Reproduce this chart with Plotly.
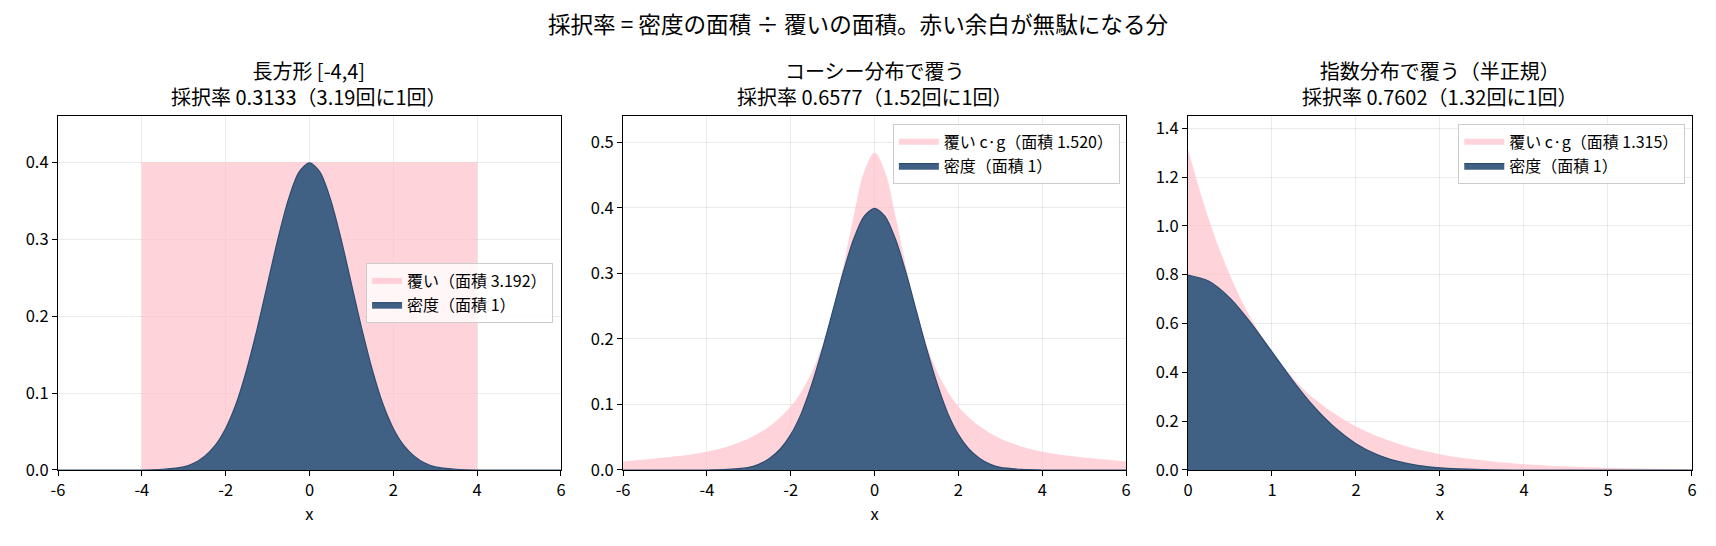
import plotly.graph_objects as go

# values
norm_x_half = [0, 0.25, 0.5, 0.75, 1.0, 1.25, 1.5, 1.75, 2.0, 2.25, 2.5, 2.75, 3.0, 3.5, 4.0, 6.0]
norm_y_half = [0.399, 0.387, 0.352, 0.301, 0.242, 0.183, 0.130, 0.086, 0.054, 0.032, 0.018, 0.009,
               0.004, 0.001, 0.000, 0.000]

rect_x = [-4, 4]
rect_y = [0.4, 0.4]

cauchy_x_half = [0, 0.25, 0.5, 0.75, 1.0, 1.25, 1.5, 1.75, 2.0, 2.5, 3.0, 3.5, 4.0, 5.0, 6.0]
cauchy_y_half = [0.484, 0.455, 0.387, 0.310, 0.242, 0.189, 0.149, 0.119, 0.097, 0.067, 0.048,
                 0.036, 0.028, 0.019, 0.013]

half_x = [0, 0.25, 0.5, 0.75, 1.0, 1.25, 1.5, 1.75, 2.0, 2.25, 2.5, 2.75, 3.0, 3.5, 4.0, 6.0]
half_y = [0.798, 0.773, 0.704, 0.602, 0.484, 0.365, 0.259, 0.173, 0.108, 0.063, 0.035, 0.018,
          0.009, 0.002, 0.000, 0.000]

exp_x = [0, 0.25, 0.5, 0.75, 1.0, 1.25, 1.5, 2.0, 2.5, 3.0, 3.5, 4.0, 5.0, 6.0]
exp_y = [1.315, 1.024, 0.798, 0.621, 0.484, 0.377, 0.293, 0.178, 0.108, 0.065, 0.040, 0.024,
         0.009, 0.003]

titles = ['長方形 [-4,4]<br>採択率 0.3133（3.19回に1回）',
          'コーシー分布で覆う<br>採択率 0.6577（1.52回に1回）',
          '指数分布で覆う（半正規）<br>採択率 0.7602（1.32回に1回）']
env_names = ['覆い（面積 3.192）', '覆い c·g（面積 1.520）', '覆い c·g（面積 1.315）']
dens_name = '密度（面積 1）'

sym_ticks = [-6, -4, -2, 0, 2, 4, 6]
pos_ticks = [0, 1, 2, 3, 4, 5, 6]

# mirror the symmetric curves
norm_x = [-v for v in norm_x_half[::-1]] + norm_x_half[1:]
norm_y = norm_y_half[::-1] + norm_y_half[1:]
cauchy_x = [-v for v in cauchy_x_half[::-1]] + cauchy_x_half[1:]
cauchy_y = cauchy_y_half[::-1] + cauchy_y_half[1:]

PINK = 'rgba(255,192,203,0.7)'
NAVY = 'rgb(64,97,132)'
EDGE = 'rgb(44,76,112)'
FONT = 'Noto Sans CJK JP'

panels = [
    (rect_x, rect_y, norm_x, norm_y, 'linear', sym_ticks),
    (cauchy_x, cauchy_y, norm_x, norm_y, 'spline', sym_ticks),
    (exp_x, exp_y, half_x, half_y, 'spline', pos_ticks),
]

fig = go.Figure()
for i, (ex, ey, dx, dy, shape, _) in enumerate(panels):
    n = '' if i == 0 else str(i + 1)
    leg = 'legend' + n
    fig.add_trace(go.Scatter(
        x=ex, y=ey, mode='none', fill='tozeroy', fillcolor=PINK,
        line_shape=shape, name=env_names[i], legend=leg,
        xaxis='x' + n, yaxis='y' + n))
    fig.add_trace(go.Scatter(
        x=dx, y=dy, mode='lines', fill='tozeroy', fillcolor=NAVY,
        line=dict(color=EDGE, width=1.2, shape='spline', smoothing=0.8), name=dens_name, legend=leg,
        xaxis='x' + n, yaxis='y' + n))

# page offset of the browser (body margin) taken off the layout
DX = 8 / 1716
DY = 8 / 546

x_domains = [[0.0338 - DX, 0.3269 - DX], [0.3631 - DX, 0.6562 - DX], [0.6923 - DX, 0.986 - DX]]
y_dom = [0.1392 + DY, 0.7875 + DY]
x_ranges = [[-6, 6], [-6, 6], [0, 6]]
y_ranges = [[0, 0.46], [0, 0.54], [0, 1.45]]
y_dticks = [0.1, 0.1, 0.2]

axis_common = dict(showline=True, linecolor='black', linewidth=1.2, mirror=True,
                   ticks='outside', ticklen=5, tickwidth=1.2, tickcolor='black',
                   showgrid=True, gridcolor='rgba(0,0,0,0.08)', gridwidth=1,
                   zeroline=False, automargin=False, tickfont=dict(size=16.5, color='black'))

layout = {}
for i in range(3):
    n = '' if i == 0 else str(i + 1)
    ticks = panels[i][5]
    layout['xaxis' + n] = dict(axis_common, domain=x_domains[i], range=x_ranges[i],
                               tickvals=ticks, ticktext=[str(t) for t in ticks], anchor='y' + n,
                               title=dict(text='x', font=dict(size=16.5, color='black'), standoff=6))
    layout['yaxis' + n] = dict(axis_common, domain=y_dom, range=y_ranges[i],
                               dtick=y_dticks[i], tickformat='.1f', anchor='x' + n)

legend_style = dict(bgcolor='rgba(255,255,255,0.8)', bordercolor='#cccccc', borderwidth=1,
                    font=dict(size=16, color='black'), tracegroupgap=0)
layout['legend'] = dict(legend_style, x=0.3223 - DX, y=0.4634 + DY, xanchor='right', yanchor='middle',
                        itemwidth=30)
layout['legend2'] = dict(legend_style, x=0.6526 - DX, y=0.773 + DY, xanchor='right', yanchor='top',
                         itemwidth=40)
layout['legend3'] = dict(legend_style, x=0.9821 - DX, y=0.773 + DY, xanchor='right', yanchor='top',
                         itemwidth=40)

fig.update_layout(
    width=1716, height=546,
    margin=dict(l=0, r=0, t=0, b=0, autoexpand=False),
    paper_bgcolor='white', plot_bgcolor='white',
    font=dict(family=FONT, color='black'),
    title=dict(text='採択率 = 密度の面積 ÷ 覆いの面積。赤い余白が無駄になる分',
               x=0.5 - DX, xanchor='center', y=1 - 17 / 546, yanchor='middle',
               font=dict(size=22.6, color='black')),
    **layout
)

for i in range(3):
    fig.add_annotation(text=titles[i], xref='paper', yref='paper',
                       x=sum(x_domains[i]) / 2, y=y_dom[1], xanchor='center', yanchor='bottom',
                       yshift=3, showarrow=False, font=dict(size=20, color='black'))

fig.write_html("out.html")
